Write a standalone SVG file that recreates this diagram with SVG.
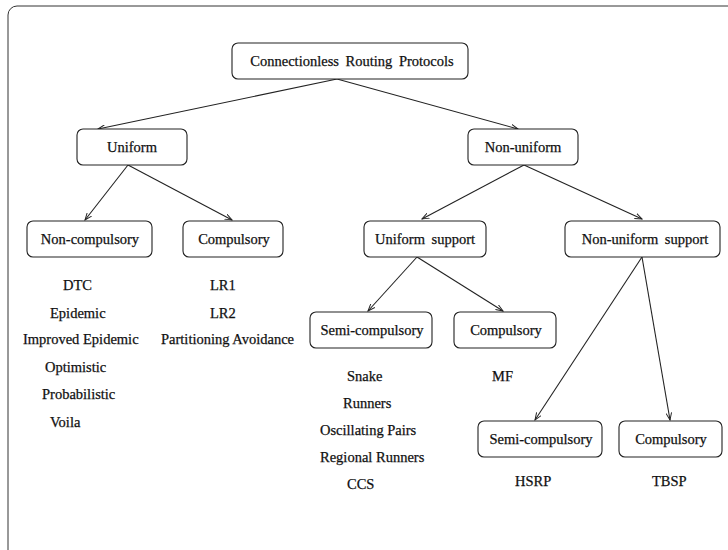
<svg xmlns="http://www.w3.org/2000/svg" width="728" height="550" viewBox="0 0 728 550">
<style>
.box{fill:#fff;stroke:#222;stroke-width:1.1}
text{font-family:'Liberation Serif','DejaVu Serif',serif;font-size:14.5px;fill:#111;stroke:#111;stroke-width:0.25}
.t{text-anchor:middle}
.l{text-anchor:start}
.c{stroke:#222;stroke-width:1.1;fill:none;marker-end:url(#ah)}
</style>
<defs>
<marker id="ah" viewBox="0 0 10 8" refX="9" refY="4" markerWidth="8" markerHeight="6.4" orient="auto" markerUnits="userSpaceOnUse">
<path d="M0,0.5 L9,4 L0,7.5" fill="none" stroke="#222" stroke-width="1.2"/>
</marker>
</defs>
<rect width="728" height="550" fill="#fff"/>
<rect x="8" y="6" width="760" height="580" rx="9" fill="none" stroke="#333" stroke-width="1"/>
<g id="connectors">
<line class="c" x1="337" y1="79" x2="98" y2="129"/>
<line class="c" x1="337" y1="79" x2="518" y2="129"/>
<line class="c" x1="128" y1="165" x2="85" y2="220"/>
<line class="c" x1="128" y1="165" x2="232" y2="220"/>
<line class="c" x1="524" y1="165" x2="422" y2="219"/>
<line class="c" x1="524" y1="165" x2="642" y2="219"/>
<line class="c" x1="417" y1="257" x2="368" y2="311"/>
<line class="c" x1="417" y1="257" x2="503" y2="311"/>
<line class="c" x1="642" y1="257" x2="535" y2="420"/>
<line class="c" x1="642" y1="257" x2="670" y2="420"/>
</g>
<g id="root"><rect class="box" x="232" y="43" width="236" height="36" rx="6"/><text class="t" font-family="Liberation Serif" x="352" y="66" word-spacing="3">Connectionless Routing Protocols</text></g>
<g id="uniform"><rect class="box" x="77" y="129" width="110" height="36" rx="6"/><text class="t" x="132" y="152">Uniform</text></g>
<g id="nonuniform"><rect class="box" x="468" y="129" width="110" height="36" rx="6"/><text class="t" x="523" y="152">Non-uniform</text></g>
<g id="noncompulsory"><rect class="box" x="27" y="221" width="125" height="36" rx="6"/><text class="t" x="90" y="244">Non-compulsory</text></g>
<g id="compulsory1"><rect class="box" x="183" y="221" width="100" height="36" rx="6"/><text class="t" x="234" y="244">Compulsory</text></g>
<g id="uniformsupport"><rect class="box" x="364" y="221" width="122" height="36" rx="6"/><text class="t" x="425" y="244" word-spacing="3">Uniform support</text></g>
<g id="nonuniformsupport"><rect class="box" x="565" y="221" width="155" height="36" rx="6"/><text class="t" x="645" y="244" word-spacing="3">Non-uniform support</text></g>
<g id="semi1"><rect class="box" x="310" y="312" width="122" height="36" rx="6"/><text class="t" x="372" y="335">Semi-compulsory</text></g>
<g id="compulsory2"><rect class="box" x="454" y="312" width="102" height="36" rx="6"/><text class="t" x="506" y="335">Compulsory</text></g>
<g id="semi2"><rect class="box" x="478" y="421" width="124" height="36" rx="6"/><text class="t" x="541" y="444">Semi-compulsory</text></g>
<g id="compulsory3"><rect class="box" x="619" y="421" width="103" height="36" rx="6"/><text class="t" x="671" y="444">Compulsory</text></g>
<g id="lists">
<text class="l" x="63" y="290">DTC</text>
<text class="l" x="50" y="318">Epidemic</text>
<text class="l" x="23" y="344">Improved Epidemic</text>
<text class="l" x="45" y="372">Optimistic</text>
<text class="l" x="42" y="399">Probabilistic</text>
<text class="l" x="50" y="427">Voila</text>
<text class="l" x="210" y="290">LR1</text>
<text class="l" x="210" y="318">LR2</text>
<text class="l" x="161" y="344">Partitioning Avoidance</text>
<text class="l" x="347" y="381">Snake</text>
<text class="l" x="343" y="408">Runners</text>
<text class="l" x="320" y="435">Oscillating Pairs</text>
<text class="l" x="320" y="462">Regional Runners</text>
<text class="l" x="347" y="489">CCS</text>
<text class="l" x="492" y="381">MF</text>
<text class="l" x="515" y="486">HSRP</text>
<text class="l" x="652" y="486">TBSP</text>
</g>
</svg>
